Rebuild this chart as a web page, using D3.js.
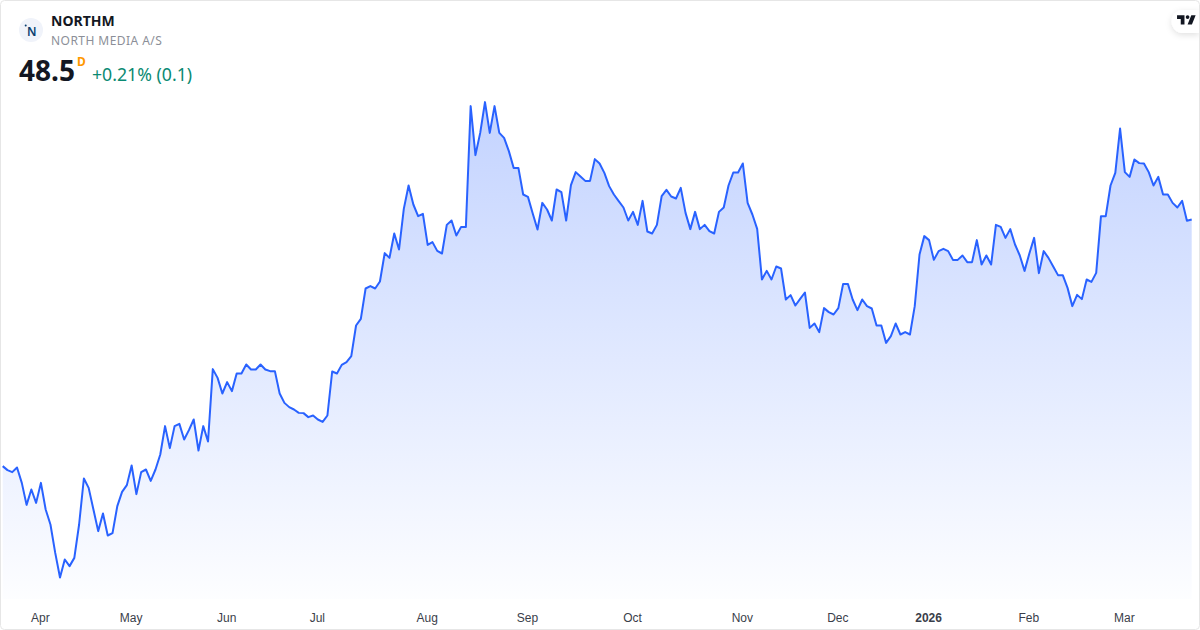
<!DOCTYPE html>
<html>
<head>
<meta charset="utf-8">
<script src="https://cdnjs.cloudflare.com/ajax/libs/d3/7.8.5/d3.min.js"></script>
<style>
html, body { margin: 0; padding: 0; background: #fff; }
svg { display: block; font-family: "Noto Sans", sans-serif; }
.tick text { font-size: 12px; fill: #3a3e4a; }
</style>
</head>
<body>
<div id="chart"></div>
<script>
// Data {{{
const closes = [
  28.77, 28.45, 28.29, 28.66, 27.43, 25.67, 26.90, 25.83, 27.43, 25.30,
  24.10, 21.83, 19.86, 21.30, 20.77, 21.43, 24.10, 27.78, 27.03, 25.30,
  23.57, 24.98, 23.22, 23.41, 25.57, 26.71, 27.25, 28.82, 26.53, 28.29,
  28.50, 27.59, 28.50, 29.70, 31.97, 30.21, 31.97, 32.15, 30.90, 31.65,
  32.50, 30.02, 31.97, 30.74, 36.53, 35.83, 34.58, 35.49, 34.77, 36.18,
  36.18, 36.90, 36.50, 36.50, 36.90, 36.50, 36.37, 36.37, 34.58, 33.83,
  33.49, 33.30, 33.03, 33.01, 32.69, 32.82, 32.50, 32.31, 32.82, 36.34,
  36.18, 36.87, 37.09, 37.57, 40.02, 40.55, 42.98, 43.17, 42.98, 43.54,
  45.81, 45.43, 47.38, 46.10, 49.35, 51.22, 49.70, 48.77, 48.95, 46.47,
  46.69, 45.99, 45.78, 48.07, 48.42, 47.22, 47.91, 47.91, 57.57, 53.65,
  55.43, 57.89, 55.43, 57.57, 55.43, 55.03, 53.97, 52.63, 52.63, 50.50,
  50.31, 48.98, 47.70, 49.83, 49.30, 48.42, 50.90, 50.69, 48.42, 51.25,
  52.29, 51.94, 51.59, 51.59, 53.33, 52.98, 52.23, 51.17, 50.50, 49.97,
  49.46, 48.42, 49.11, 48.07, 49.99, 47.54, 47.38, 48.07, 50.37, 50.87,
  50.34, 50.18, 51.03, 49.03, 47.73, 49.11, 47.73, 48.07, 47.57, 47.38,
  49.11, 49.46, 51.22, 52.26, 52.26, 52.98, 49.83, 48.90, 47.75, 43.70,
  44.39, 43.70, 44.74, 44.58, 42.10, 42.45, 41.62, 42.15, 42.66, 39.83,
  40.18, 39.49, 41.41, 41.09, 40.90, 41.41, 43.35, 43.35, 42.10, 41.25,
  42.10, 41.57, 41.38, 40.02, 40.02, 38.63, 39.17, 40.18, 39.30, 39.49,
  39.30, 41.57, 45.70, 47.17, 46.85, 45.27, 45.97, 46.15, 45.97, 45.27,
  45.27, 45.62, 45.09, 45.09, 46.85, 44.90, 45.62, 44.90, 48.07, 47.91,
  47.03, 47.73, 46.50, 45.62, 44.39, 45.78, 47.03, 44.21, 45.97, 45.43,
  44.74, 44.05, 44.05, 43.03, 41.57, 42.47, 42.13, 43.70, 43.51, 44.23,
  48.77, 48.77, 51.22, 52.23, 55.78, 52.29, 51.91, 53.30, 53.01, 52.98,
  52.29, 51.22, 51.91, 50.50, 50.50, 49.83, 49.46, 49.99, 48.40, 48.50
];
const month_starts = [8, 27, 47, 66, 89, 110, 132, 155, 175, 194, 215, 235];
const month_labels = ["Apr", "May", "Jun", "Jul", "Aug", "Sep", "Oct", "Nov", "Dec", "2026", "Feb", "Mar"];
//}}}
// Consts {{{
const width = 1200;
const height = 630;
const line_color = "#2962ff";
const svg = d3.select("#chart").append("svg")
    .attr("width", width)
    .attr("height", height);

const x = d3.scaleLinear().domain([0, closes.length - 1]).range([2.7, 1191.7]);
const y = d3.scaleLinear().domain([19.9, 57.9]).range([577, 102]);
const baseline = 599;
//}}}
// Gradient {{{
const grad = svg.append("defs").append("linearGradient")
    .attr("id", "area_fill")
    .attr("gradientUnits", "userSpaceOnUse")
    .attr("x1", 0).attr("x2", 0)
    .attr("y1", y(d3.max(closes))).attr("y2", baseline);
grad.append("stop").attr("offset", 0).attr("stop-color", line_color).attr("stop-opacity", 0.28);
grad.append("stop").attr("offset", 1).attr("stop-color", line_color).attr("stop-opacity", 0.01);
//}}}
// Plot {{{
const area = d3.area()
    .x((d, i) => x(i))
    .y0(baseline)
    .y1(d => y(d));
const line = d3.line()
    .x((d, i) => x(i))
    .y(d => y(d));

svg.append("path")
    .datum(closes)
    .attr("d", area)
    .attr("fill", "url(#area_fill)");

svg.append("path")
    .datum(closes)
    .attr("d", line)
    .attr("fill", "none")
    .attr("stroke", line_color)
    .attr("stroke-width", 2)
    .attr("stroke-linejoin", "round");

// month labels
const axis = d3.axisBottom(x)
    .tickValues(month_starts)
    .tickSize(0)
    .tickPadding(0)
    .tickFormat((d, i) => month_labels[i]);
const axis_g = svg.append("g")
    .attr("transform", "translate(-1,613)")
    .call(axis);
axis_g.select(".domain").remove();
axis_g.selectAll(".tick text")
    .attr("font-family", null)
    .style("font-weight", (d, i) => month_labels[i] == "2026" ? "700" : "400");
//}}}
// Header {{{
svg.append("circle").attr("cx", 31).attr("cy", 30).attr("r", 12).attr("fill", "#f0f3fa");
svg.append("text").attr("x", 27).attr("y", 35.5)
    .attr("font-size", 12).attr("font-weight", 600).attr("fill", "#0b3f70").text("N");
svg.append("circle").attr("cx", 25.7).attr("cy", 25.5).attr("r", 1).attr("fill", "#0b3f70");

svg.append("text").attr("x", 51).attr("y", 26)
    .attr("font-size", 14).attr("font-weight", 700).attr("fill", "#131722").text("NORTHM");
svg.append("text").attr("x", 51).attr("y", 45)
    .attr("font-size", 12).attr("letter-spacing", 0.45).attr("fill", "#8c8f98").text("NORTH MEDIA A/S");
svg.append("text").attr("x", 19).attr("y", 81)
    .attr("font-size", 28).attr("font-weight", 700).attr("fill", "#131722").text("48.5");
svg.append("text").attr("x", 77).attr("y", 66)
    .attr("font-size", 12).attr("font-weight", 700).attr("fill", "#ff9800").text("D");
svg.append("text").attr("x", 92).attr("y", 81)
    .attr("font-size", 17.7).attr("fill", "#0a8a72").text("+0.21% (0.1)");
//}}}
// Logo and frame {{{
const shadow = svg.select("defs").append("filter").attr("id", "pill_shadow")
    .attr("x", "-30%").attr("y", "-30%").attr("width", "160%").attr("height", "170%");
shadow.append("feDropShadow").attr("dx", 0).attr("dy", 2).attr("stdDeviation", 3)
    .attr("flood-color", "#000").attr("flood-opacity", 0.12);
svg.append("path")
    .attr("d", "M1199,10 H1183 a11,11 0 0 0 0,23 H1199 Z")
    .attr("fill", "#fff")
    .attr("filter", "url(#pill_shadow)");
svg.append("path")
    .attr("transform", "translate(1175.8,11.5) scale(0.62)")
    .attr("d", "M14 6H2v6h6v9h6V6Zm12 15h-7l6-15h7l-6 15Zm-7-9a3 3 0 1 0 0-6 3 3 0 0 0 0 6Z")
    .attr("fill", "#131722");

svg.append("rect")
    .attr("x", 0.5).attr("y", 0.5)
    .attr("width", width - 1).attr("height", height - 1)
    .attr("rx", 4)
    .attr("fill", "none")
    .attr("stroke", "#e6e6e6");
//}}}
</script>
</body>
</html>
